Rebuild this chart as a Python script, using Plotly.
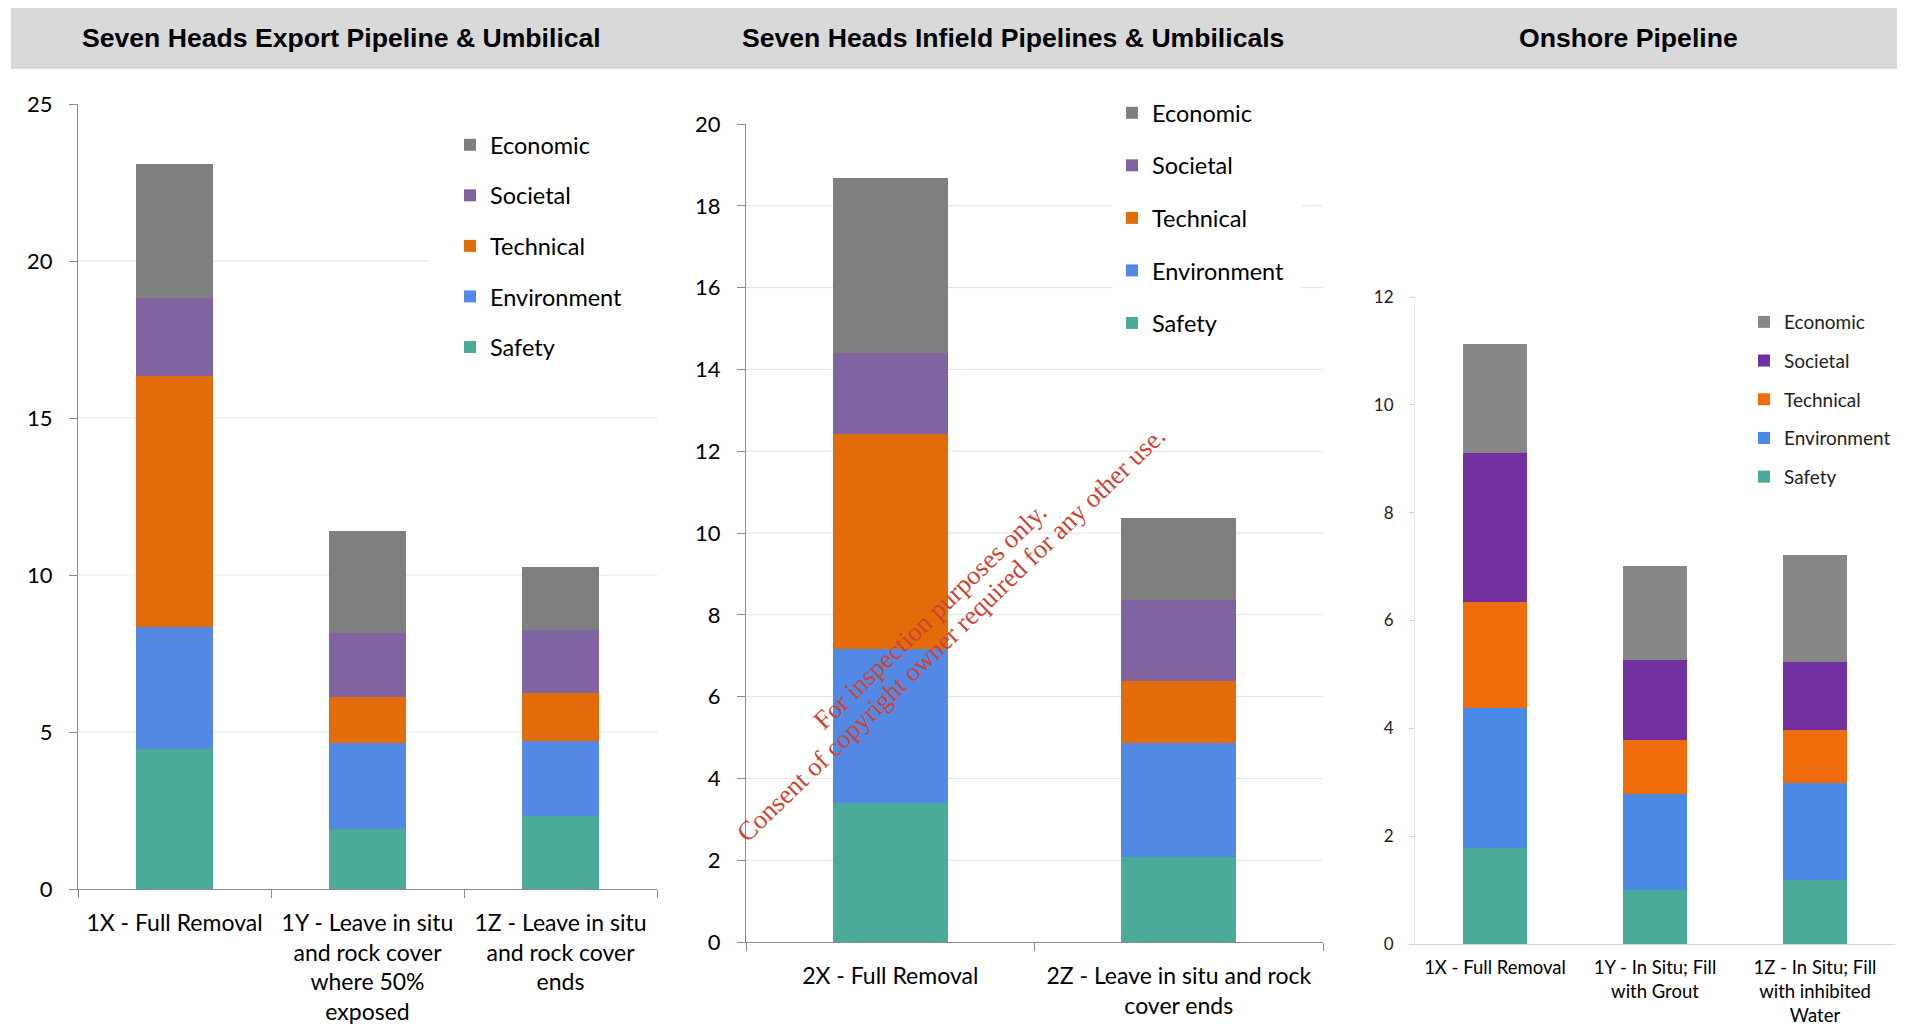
import plotly.graph_objects as go

# ---------------- data ----------------
series = ["Safety", "Environment", "Technical", "Societal", "Economic"]

p1_title = "Seven Heads Export Pipeline & Umbilical"
p1_categories = ["1X - Full Removal",
                 "1Y - Leave in situ<br>and rock cover<br>where 50%<br>exposed",
                 "1Z - Leave in situ<br>and rock cover<br>ends"]
p1_safety = [4.45, 1.91, 2.33]
p1_environment = [3.88, 2.75, 2.39]
p1_technical = [8.01, 1.46, 1.53]
p1_societal = [2.49, 2.02, 2.01]
p1_economic = [4.26, 3.27, 2.00]
p1_gridlines = [5, 10, 15, 20]

p2_title = "Seven Heads Infield Pipelines & Umbilicals"
p2_categories = ["2X - Full Removal", "2Z - Leave in situ and rock<br>cover ends"]
p2_safety = [3.41, 2.09]
p2_environment = [3.76, 2.77]
p2_technical = [5.26, 1.53]
p2_societal = [1.98, 1.98]
p2_economic = [4.27, 2.00]
p2_gridlines = [2, 4, 6, 8, 10, 12, 14, 16, 18]

p3_title = "Onshore Pipeline"
p3_categories = ["1X - Full Removal", "1Y - In Situ; Fill<br>with Grout",
                 "1Z - In Situ; Fill<br>with inhibited<br>Water"]
p3_safety = [1.78, 1.00, 1.19]
p3_environment = [2.59, 1.78, 1.79]
p3_technical = [1.98, 1.00, 0.99]
p3_societal = [2.75, 1.48, 1.26]
p3_economic = [2.02, 1.76, 1.98]

watermark_1 = "For inspection purposes only."
watermark_2 = "Consent of copyright owner required for any other use."

# ---------------- styling ----------------
W, H = 1889, 1017
OX, OY = 8, 8


def fx(px):
    return (px - OX) / W


def fy(py):
    return 1 - (py - OY) / H


colors_main = {"Safety": "#4bab99", "Environment": "#5389e5", "Technical": "#e36c0a",
               "Societal": "#8064a2", "Economic": "#7f7f7f"}
colors_p3 = {"Safety": "#48aa97", "Environment": "#4a8ae6", "Technical": "#ee6c0c",
             "Societal": "#7030a0", "Economic": "#878787"}

FONT = "Lato, 'Open Sans', sans-serif"
AXC = "#8c8c8c"
GRID = "#dde3f3"

# plot-area boxes in page pixels: (left, right, bottom(y=0), top)
box1 = (78, 657, 889, 104)
box2 = (746, 1323, 942, 124)
box3 = (1415, 1895, 944, 297)

fig = go.Figure()

panels = [
    (p1_categories, [p1_safety, p1_environment, p1_technical, p1_societal, p1_economic],
     "x", "y", "legend", colors_main),
    (p2_categories, [p2_safety, p2_environment, p2_technical, p2_societal, p2_economic],
     "x2", "y2", "legend2", colors_main),
    (p3_categories, [p3_safety, p3_environment, p3_technical, p3_societal, p3_economic],
     "x3", "y3", "legend3", colors_p3),
]

for pi, (cats, vals, xa, ya, lg, cols) in enumerate(panels):
    for idx, (name, v) in enumerate(zip(series, vals)):
        fig.add_trace(go.Bar(
            x=cats, y=v, name=name, xaxis=xa, yaxis=ya, legend=lg,
            legendgroup=f"{lg}_{name}", legendrank=len(series) - idx,
            marker=dict(color=cols[name], line=dict(width=0)),
            hoverinfo="name+y",
        ))

fig.update_layout(
    width=W, height=H,
    margin=dict(l=0, r=0, t=0, b=0, autoexpand=False),
    paper_bgcolor="white", plot_bgcolor="white",
    barmode="stack", bargap=0.6,
    font=dict(family=FONT, color="#000000"),
    showlegend=True,
)


def xaxis_cfg(box, anchor, fs, ticks=True, linecolor=AXC, standoff=13):
    return dict(domain=[fx(box[0]), fx(box[1])], anchor=anchor, showline=True,
                linecolor=linecolor, linewidth=1, ticks="outside" if ticks else "",
                tickson="boundaries", ticklen=8, tickcolor=linecolor, showgrid=False,
                fixedrange=True, automargin=False,
                tickfont=dict(family=FONT, size=fs, color="#000000"),
                ticklabelstandoff=standoff)


def yaxis_cfg(box, anchor, rng, dt, fs, linecolor=AXC, ticklen=8,
              standoff=12, tickcolor=AXC, fontcolor="#000000"):
    return dict(domain=[fy(box[2]), fy(box[3])], anchor=anchor, range=rng, dtick=dt,
                showline=True, linecolor=linecolor, linewidth=1, ticks="outside",
                ticklen=ticklen, tickcolor=tickcolor, showgrid=False,
                zeroline=False, fixedrange=True, automargin=False,
                tickfont=dict(family=FONT, size=fs, color=fontcolor),
                ticklabelstandoff=standoff)


fig.update_layout(
    xaxis=xaxis_cfg(box1, "y", 23),
    yaxis=yaxis_cfg(box1, "x", [0, 25], 5, 22),
    xaxis2=xaxis_cfg(box2, "y2", 23),
    yaxis2=yaxis_cfg(box2, "x2", [0, 20], 2, 22),
    xaxis3=xaxis_cfg(box3, "y3", 18.5, ticks=False, linecolor="#d4d4d4", standoff=7),
    yaxis3=yaxis_cfg(box3, "x3", [0, 12], 2, 17, linecolor="#ececec",
                     ticklen=5, standoff=12, tickcolor="#d0d0d0", fontcolor="#222222"),
)

leg_common = dict(xanchor="left", yanchor="top", bgcolor="rgba(255,255,255,0)",
                  borderwidth=0, traceorder="grouped", orientation="v")
fig.update_layout(
    legend=dict(x=fx(450), y=fy(123), font=dict(family=FONT, size=23.5, color="#000000"),
                tracegroupgap=17, **leg_common),
    legend2=dict(x=fx(1112), y=fy(91), font=dict(family=FONT, size=23.5, color="#000000"),
                 tracegroupgap=19, **leg_common),
    legend3=dict(x=fx(1744), y=fy(303), font=dict(family=FONT, size=19, color="#222222"),
                 tracegroupgap=11, **leg_common),
)


# gridlines (interrupted where the original's white legend box sits)
def dom_x(box, px):
    return (px - box[0]) / (box[1] - box[0])


def dom_y(box, py):
    return (box[2] - py) / (box[2] - box[3])


def add_grid(box, xr, yr, values, legend_box):
    lx0, lx1, ly0, ly1 = legend_box
    for v in values:
        ypix = box[2] - v / fig.layout[yr.replace("y", "yaxis") if yr != "y" else "yaxis"].range[1] * (box[2] - box[3])
        if ly0 <= ypix <= ly1:
            segs = [(0.0, dom_x(box, lx0)), (dom_x(box, lx1), 1.0)]
        else:
            segs = [(0.0, 1.0)]
        for a, b in segs:
            if b - a <= 0.001:
                continue
            fig.add_shape(type="line", xref=f"{xr} domain", yref=yr, x0=a, x1=b, y0=v, y1=v,
                          line=dict(color=GRID, width=1), layer="below")


add_grid(box1, "x", "y", p1_gridlines, (430, 700, 118, 378))
add_grid(box2, "x2", "y2", p2_gridlines, (1112, 1301, 88, 350))

# title band
fig.add_shape(type="rect", xref="paper", yref="paper", x0=fx(11), x1=1.0,
              y0=fy(69), y1=fy(6), fillcolor="#d9d9d9", line=dict(width=0), layer="below")

for t, cx in [(p1_title, 341), (p2_title, 1013), (p3_title, 1628)]:
    fig.add_annotation(text=f"<b>{t}</b>", xref="paper", yref="paper", x=fx(cx), y=fy(38),
                       xanchor="center", yanchor="middle", showarrow=False,
                       font=dict(family="'Liberation Sans', Arial, sans-serif", size=26.6,
                                 color="#000000"))

# watermark
for txt, cx, cy in [(watermark_1, 930, 616), (watermark_2, 951, 634)]:
    fig.add_annotation(text=txt, xref="paper", yref="paper", x=fx(cx), y=fy(cy),
                       xanchor="center", yanchor="middle", showarrow=False, textangle=-44,
                       font=dict(family="'Liberation Serif', 'Times New Roman', serif",
                                 size=26.5, color="#cc4433"))

fig.write_html("out.html")
